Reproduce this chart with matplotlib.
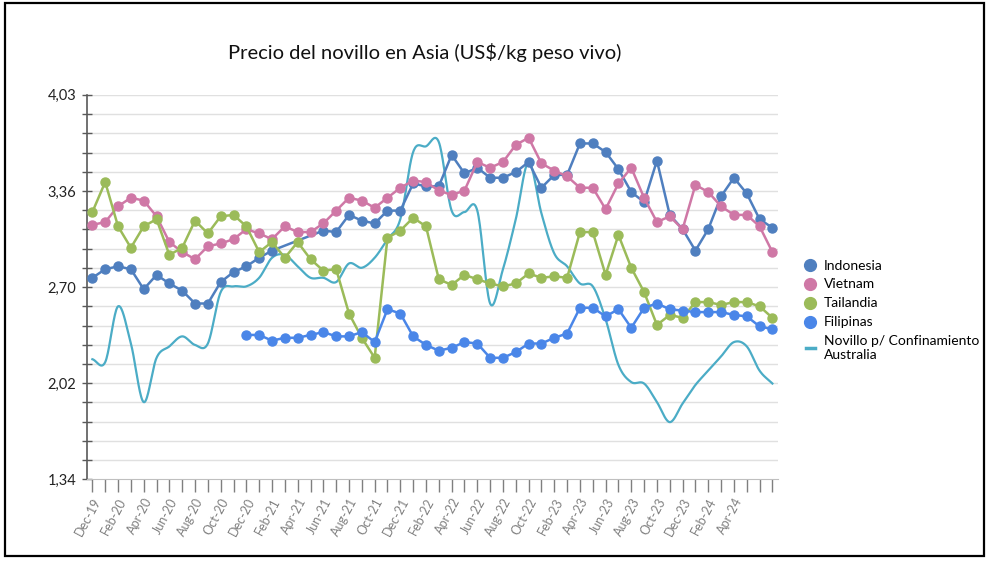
import matplotlib
matplotlib.use("Agg")

import matplotlib.pyplot as plt
import numpy as np
from matplotlib.lines import Line2D
from matplotlib.patches import Rectangle

plt.rcParams["font.family"] = ["Lato", "DejaVu Sans"]

nan = np.nan

# ─── Data (US$/kg peso vivo, mensual Dec-19 … May-24) ─────────────────────
x_labels = ["Dec-19", "Feb-20", "Apr-20", "Jun-20", "Aug-20", "Oct-20", "Dec-20",
            "Feb-21", "Apr-21", "Jun-21", "Aug-21", "Oct-21", "Dec-21", "Feb-22",
            "Apr-22", "Jun-22", "Aug-22", "Oct-22", "Feb-23", "Apr-23", "Jun-23",
            "Aug-23", "Oct-23", "Dec-23", "Feb-24", "Apr-24"]

indonesia = [2.75, 2.81, 2.83, 2.81, 2.67, 2.77, 2.71, 2.66, 2.57, 2.57,
             2.72, 2.79, 2.83, 2.89, 2.94, nan, nan, nan, 3.08, 3.07,
             3.19, 3.15, 3.13, 3.22, 3.22, 3.41, 3.39, 3.39, 3.61, 3.48,
             3.52, 3.45, 3.45, 3.49, 3.56, 3.38, 3.47, 3.47, 3.69, 3.69,
             3.63, 3.51, 3.35, 3.28, 3.57, 3.19, 3.09, 2.94, 3.09, 3.32,
             3.45, 3.34, 3.16, 3.10]

vietnam = [3.12, 3.14, 3.25, 3.31, 3.29, 3.18, 3.00, 2.93, 2.88, 2.97,
           2.99, 3.02, 3.09, 3.06, 3.02, 3.11, 3.07, 3.07, 3.13, 3.22,
           3.31, 3.29, 3.24, 3.31, 3.38, 3.43, 3.42, 3.36, 3.33, 3.36,
           3.56, 3.52, 3.56, 3.68, 3.73, 3.55, 3.50, 3.46, 3.38, 3.38,
           3.23, 3.41, 3.52, 3.31, 3.14, 3.18, 3.09, 3.40, 3.35, 3.25,
           3.19, 3.19, 3.11, 2.93]

tailandia = [3.21, 3.42, 3.11, 2.96, 3.11, 3.16, 2.91, 2.96, 3.15, 3.06,
             3.18, 3.19, 3.11, 2.93, 3.00, 2.89, 3.00, 2.88, 2.80, 2.81,
             2.50, 2.33, 2.19, 3.03, 3.08, 3.17, 3.11, 2.74, 2.70, 2.77,
             2.74, 2.71, 2.69, 2.71, 2.78, 2.75, 2.76, 2.75, 3.07, 3.07,
             2.77, 3.05, 2.82, 2.65, 2.42, 2.49, 2.47, 2.58, 2.58, 2.56,
             2.58, 2.58, 2.55, 2.47]

filipinas = [nan] * 12 + [
             2.35, 2.35, 2.31, 2.33, 2.33, 2.35, 2.37, 2.34, 2.34, 2.37,
             2.30, 2.53, 2.50, 2.34, 2.28, 2.24, 2.26, 2.30, 2.29, 2.19,
             2.19, 2.23, 2.29, 2.29, 2.33, 2.36, 2.54, 2.54, 2.48, 2.53,
             2.40, 2.54, 2.57, 2.53, 2.52, 2.51, 2.51, 2.51, 2.49, 2.48,
             2.41, 2.39]

australia = [2.18, 2.16, 2.55, 2.29, 1.88, 2.19, 2.27, 2.34, 2.28, 2.29,
             2.65, 2.69, 2.69, 2.75, 2.89, 2.91, 2.83, 2.75, 2.75, 2.72,
             2.85, 2.82, 2.89, 3.02, 3.16, 3.63, 3.67, 3.70, 3.22, 3.21,
             3.22, 2.57, 2.81, 3.16, 3.56, 3.20, 2.92, 2.83, 2.71, 2.69,
             2.46, 2.14, 2.02, 2.01, 1.88, 1.74, 1.87, 2.00, 2.10, 2.20,
             2.30, 2.27, 2.10, 2.01]

y_tick_labels = ["1,34", "2,02", "2,70", "3,36", "4,03"]
Y_MIN, Y_MAX = 1.34, 4.03

# ─── Style ───────────────────────────────────────────────────────────────
C_INDO = "#4f7fbf"
C_VIET = "#cf78a6"
C_TAIL = "#9bbb59"
C_FILI = "#4a86e8"
C_AUS = "#4bacc6"
AXIS_C = "#595959"
GRID_C = "#e0e0e0"


def catmull_rom(xs, ys, steps=20):
    """Curva suavizada tipo Excel a partir de los puntos mensuales."""
    xs = np.asarray(xs, float)
    ys = np.asarray(ys, float)
    px = np.concatenate([[2 * xs[0] - xs[1]], xs, [2 * xs[-1] - xs[-2]]])
    py = np.concatenate([[2 * ys[0] - ys[1]], ys, [2 * ys[-1] - ys[-2]]])
    out_x, out_y = [], []
    t = np.linspace(0, 1, steps, endpoint=False)
    for i in range(1, len(px) - 2):
        for p, out in ((px, out_x), (py, out_y)):
            p0, p1, p2, p3 = p[i - 1], p[i], p[i + 1], p[i + 2]
            out.extend(0.5 * (2 * p1 + (-p0 + p2) * t
                              + (2 * p0 - 5 * p1 + 4 * p2 - p3) * t ** 2
                              + (-p0 + 3 * p1 - 3 * p2 + p3) * t ** 3))
    out_x.append(xs[-1])
    out_y.append(ys[-1])
    return np.array(out_x), np.array(out_y)


n = len(indonesia)
x = np.arange(n)

fig = plt.figure(figsize=(9.89, 5.62), dpi=100)
ax = fig.add_axes([0.0877, 0.1472, 0.699, 0.684])

# grid + axes
grid_vals = np.linspace(Y_MIN, Y_MAX, 21)
for g in grid_vals[1:]:
    ax.axhline(g, color=GRID_C, lw=1.0, zorder=0)

ax.set_xlim(-0.44, n - 1 + 0.44)
ax.set_ylim(Y_MIN, Y_MAX)
for s in ("top", "right"):
    ax.spines[s].set_visible(False)
ax.spines["left"].set_color(AXIS_C)
ax.spines["bottom"].set_color("#bfbfbf")
ax.spines["left"].set_linewidth(1.2)

ax.set_yticks(np.linspace(Y_MIN, Y_MAX, 5))
ax.set_yticklabels(y_tick_labels)
ax.set_yticks(grid_vals, minor=True)
ax.tick_params(axis="y", which="both", direction="inout", length=7,
               width=1.0, color=AXIS_C, labelsize=10.5, pad=4, labelcolor="#222222")

ax.set_xticks(x)
ax.set_xticklabels([x_labels[i // 2] if i % 2 == 0 and i // 2 < len(x_labels) else ""
                    for i in x], rotation=62, ha="right", va="top",
                   rotation_mode="anchor")
ax.tick_params(axis="x", direction="out", length=9, width=1.0,
               color="#7f7f7f", labelsize=9, labelcolor="#808080", pad=3)

# series
def plot_marked(vals, color, label):
    v = np.asarray(vals, float)
    ok = ~np.isnan(v)
    ax.plot(x[ok], v[ok], color=color, lw=1.8, marker="o", ms=6.5,
            label=label, zorder=3)


plot_marked(indonesia, C_INDO, "Indonesia")
plot_marked(vietnam, C_VIET, "Vietnam")
plot_marked(tailandia, C_TAIL, "Tailandia")
plot_marked(filipinas, C_FILI, "Filipinas")
sx, sy = catmull_rom(x, australia)
ax.plot(sx, sy, color=C_AUS, lw=1.6, zorder=2)

# legend
handles = [Line2D([], [], ls="none", marker="o", ms=8.5, color=c)
           for c in (C_INDO, C_VIET, C_TAIL, C_FILI)]
handles.append(Line2D([], [], color=C_AUS, lw=2.5))
labels = ["Indonesia", "Vietnam", "Tailandia", "Filipinas",
          "Novillo p/ Confinamiento\nAustralia"]
leg = fig.legend(handles, labels, loc="upper left",
                 bbox_to_anchor=(800 / 989, 1 - 254 / 562), frameon=False,
                 fontsize=10, handlelength=0.7, handletextpad=0.6,
                 labelspacing=0.5, borderaxespad=0)

fig.text(424.5 / 989, 1 - 52 / 562, "Precio del novillo en Asia (US$/kg peso vivo)",
         ha="center", va="center", fontsize=14.5, color="#111111")

fig.patches.append(Rectangle((5 / 989, 1 - 556 / 562), 979 / 989, 553 / 562,
                             transform=fig.transFigure, fill=False,
                             ec="black", lw=1.6))

fig.savefig("out.png", dpi=100, facecolor="white")
